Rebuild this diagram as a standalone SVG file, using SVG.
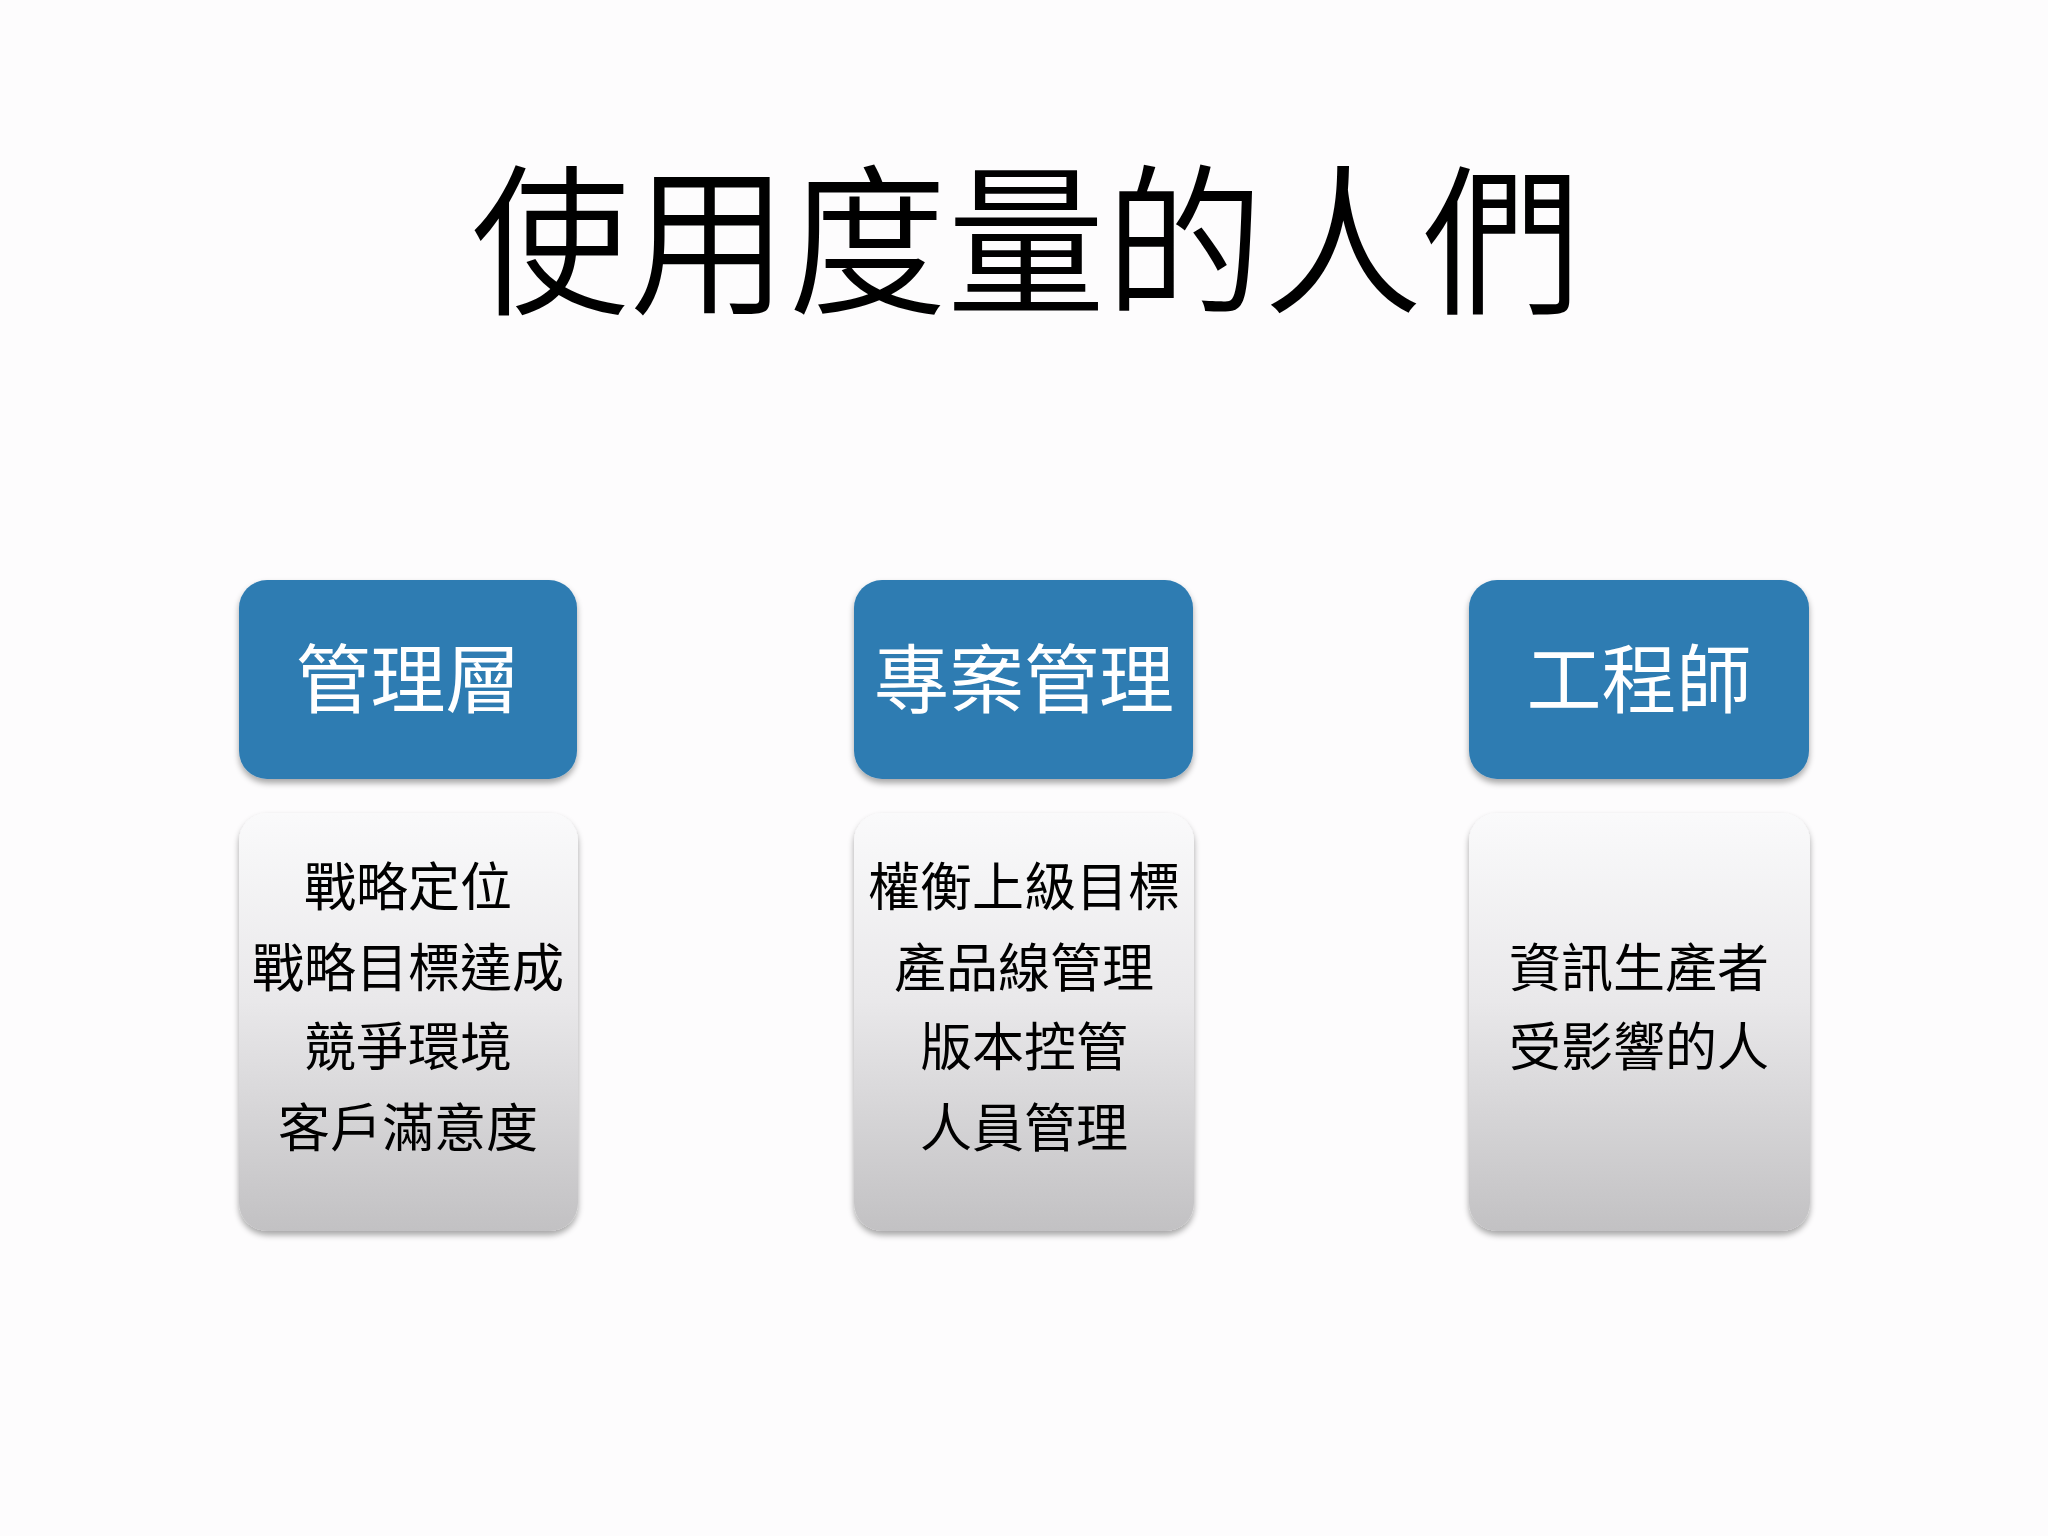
<svg xmlns="http://www.w3.org/2000/svg" width="2048" height="1536" viewBox="0 0 2048 1536">
  <defs>
    <linearGradient id="gray" x1="0" y1="0" x2="0" y2="1">
      <stop offset="0" stop-color="#fafafb"/>
      <stop offset="0.45" stop-color="#e9e8ea"/>
      <stop offset="1" stop-color="#c2c1c3"/>
    </linearGradient>
    <filter id="shadow" x="-10%" y="-10%" width="120%" height="125%">
      <feGaussianBlur in="SourceAlpha" stdDeviation="3"/>
      <feOffset dx="0" dy="4" result="b"/>
      <feComponentTransfer><feFuncA type="linear" slope="0.35"/></feComponentTransfer>
      <feMerge><feMergeNode/><feMergeNode in="SourceGraphic"/></feMerge>
    </filter>
    <style>
      .title { font-family: "Noto Sans CJK TC", "Noto Sans CJK SC", sans-serif; font-size: 162px; font-weight: 350; fill: #000; text-anchor: middle; }
      .head { fill: #2f7cb2; filter: url(#shadow); }
      .body { fill: url(#gray); filter: url(#shadow); }
      .ht { font-family: "Noto Sans CJK TC", "Noto Sans CJK SC", sans-serif; font-size: 75px; fill: #ffffff; text-anchor: middle; }
      .bt { font-family: "Noto Sans CJK TC", "Noto Sans CJK SC", sans-serif; font-size: 52px; fill: #000; text-anchor: middle; }
    </style>
  </defs>
  <rect width="2048" height="1536" fill="#fdfcfd"/>
  <text class="title" x="1026" y="302" textLength="1110" lengthAdjust="spacingAndGlyphs">使用度量的人們</text>

  <g id="node-management">
    <rect class="head" x="239" y="580" width="338" height="199" rx="28"/>
    <text class="ht" x="408" y="707">管理層</text>
  </g>
  <g id="node-management-items">
    <rect class="body" x="239" y="813" width="339" height="418" rx="28"/>
    <text class="bt" x="408" y="906">戰略定位</text>
    <text class="bt" x="408" y="987">戰略目標達成</text>
    <text class="bt" x="408" y="1066">競爭環境</text>
    <text class="bt" x="408" y="1147">客戶滿意度</text>
  </g>

  <g id="node-project">
    <rect class="head" x="854" y="580" width="339" height="199" rx="28"/>
    <text class="ht" x="1024" y="707">專案管理</text>
  </g>
  <g id="node-project-items">
    <rect class="body" x="854" y="813" width="340" height="418" rx="28"/>
    <text class="bt" x="1024" y="906">權衡上級目標</text>
    <text class="bt" x="1024" y="987">產品線管理</text>
    <text class="bt" x="1024" y="1066">版本控管</text>
    <text class="bt" x="1024" y="1147">人員管理</text>
  </g>

  <g id="node-engineer">
    <rect class="head" x="1469" y="580" width="340" height="199" rx="28"/>
    <text class="ht" x="1639" y="707">工程師</text>
  </g>
  <g id="node-engineer-items">
    <rect class="body" x="1469" y="813" width="341" height="418" rx="28"/>
    <text class="bt" x="1639" y="987">資訊生產者</text>
    <text class="bt" x="1639" y="1066">受影響的人</text>
  </g>

  <g id="connectors"/>
</svg>
